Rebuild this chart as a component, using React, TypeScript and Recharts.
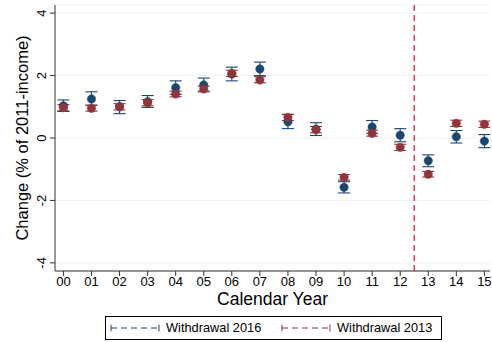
import React from 'react';
import { ComposedChart, Scatter, XAxis, YAxis, CartesianGrid, ErrorBar, ReferenceLine } from 'recharts';

const years = [0, 1, 2, 3, 4, 5, 6, 7, 8, 9, 10, 11, 12, 13, 14, 15];
const xTicks = years;
const yTicks = [-4, -2, 0, 2, 4];

// Withdrawal 2016 (blue)
const est2016 = [1.03, 1.25, 1.0, 1.16, 1.61, 1.7, 2.05, 2.21, 0.52, 0.28, -1.58, 0.35, 0.09, -0.73, 0.04, -0.1];
const lo2016 = [0.85, 1.05, 0.78, 0.98, 1.4, 1.5, 1.83, 2.0, 0.3, 0.08, -1.76, 0.15, -0.12, -0.92, -0.16, -0.31];
const hi2016 = [1.22, 1.48, 1.2, 1.36, 1.83, 1.92, 2.27, 2.43, 0.75, 0.49, -1.4, 0.56, 0.3, -0.54, 0.24, 0.11];

// Withdrawal 2013 (red)
const est2013 = [0.97, 0.95, 1.0, 1.13, 1.41, 1.57, 2.07, 1.86, 0.66, 0.27, -1.26, 0.15, -0.3, -1.16, 0.47, 0.44];
const lo2013 = [0.87, 0.86, 0.9, 1.03, 1.32, 1.48, 1.97, 1.77, 0.56, 0.17, -1.35, 0.06, -0.4, -1.25, 0.37, 0.34];
const hi2013 = [1.07, 1.05, 1.1, 1.23, 1.5, 1.66, 2.17, 1.96, 0.76, 0.37, -1.17, 0.25, -0.2, -1.07, 0.57, 0.54];

const BLUE = '#1a476f';
const RED = '#90353b';
const GRID = '#eaf2f3';
const FONT = '"Liberation Sans", Arial, sans-serif';

const build = (est: number[], lo: number[], hi: number[]) =>
  years.map((x, i) => ({ x, y: est[i], err: [est[i] - lo[i], hi[i] - est[i]] }));

const data2016 = build(est2016, lo2016, hi2016);
const data2013 = build(est2013, lo2013, hi2013);

const dot = (color: string) => (props: any) =>
  <circle cx={props.cx} cy={props.cy} r={4.2} fill={color} stroke={color} strokeOpacity={0.5} strokeWidth={1} />;

const YTick = (props: any) => {
  const { x, y, payload } = props;
  return (
    <text x={x - 2} y={y} transform={`rotate(-90 ${x - 2} ${y})`} textAnchor="middle" fontSize={13} fill="#000" fontFamily={FONT}>
      {payload.value}
    </text>
  );
};

const LegendIcon = ({ color }: { color: string }) => (
  <svg width={50} height={10} style={{ display: 'block' }}>
    <line x1={1} y1={5} x2={49} y2={5} stroke={color} strokeWidth={1} strokeDasharray="6 4" />
    <line x1={1} y1={1.5} x2={1} y2={8.5} stroke={color} strokeWidth={1} />
    <line x1={49} y1={1.5} x2={49} y2={8.5} stroke={color} strokeWidth={1} />
  </svg>
);

export default function App() {
  return (
    <div style={{ position: 'absolute', left: 0, top: 0, width: 492, height: 342, background: '#fff', fontFamily: FONT }}>
      <ComposedChart width={492} height={342} margin={{ top: 5, right: 2, left: 0, bottom: 37 }}>
        <CartesianGrid horizontal vertical={false} stroke={GRID} strokeWidth={1} />
        <XAxis
          type="number"
          dataKey="x"
          domain={[-0.3, 15.2]}
          ticks={xTicks}
          interval={0}
          allowDataOverflow
          tickFormatter={(v: number) => String(v).padStart(2, '0')}
          tick={{ fill: '#000', fontSize: 13, fontFamily: FONT }}
          tickSize={5}
          tickMargin={1}
          stroke="#333"
          height={34}
          label={{ value: 'Calendar Year', position: 'insideBottom', offset: 0, fill: '#000', fontSize: 17.5, fontFamily: FONT }}
        />
        <YAxis
          type="number"
          domain={[-4.26, 4.26]}
          ticks={yTicks}
          allowDataOverflow
          tick={<YTick />}
          tickSize={5}
          stroke="#333"
          width={55}
          label={{ value: 'Change (% of 2011-income)', angle: -90, position: 'insideLeft', offset: 22, fill: '#000', fontSize: 16.5, fontFamily: FONT, style: { textAnchor: 'middle' } }}
        />
        <ReferenceLine x={12.5} stroke="#d6102c" strokeWidth={1.2} strokeDasharray="6 4" />
        <Scatter name="Withdrawal 2016" data={data2016} dataKey="y" shape={dot(BLUE)} isAnimationActive={false}>
          <ErrorBar dataKey="err" direction="y" width={6} stroke={BLUE} strokeWidth={1.1} isAnimationActive={false} />
        </Scatter>
        <Scatter name="Withdrawal 2013" data={data2013} dataKey="y" shape={dot(RED)} isAnimationActive={false}>
          <ErrorBar dataKey="err" direction="y" width={6} stroke={RED} strokeWidth={1.1} isAnimationActive={false} />
        </Scatter>
      </ComposedChart>
      <div
        style={{
          position: 'absolute', left: 105, top: 316, width: 337, height: 24, boxSizing: 'border-box',
          border: '1px solid #000', fontSize: 12.8, color: '#000', whiteSpace: 'nowrap',
        }}
      >
        <div style={{ position: 'absolute', left: 4, top: 6 }}><LegendIcon color={BLUE} /></div>
        <span style={{ position: 'absolute', left: 60, top: 3 }}>Withdrawal 2016</span>
        <div style={{ position: 'absolute', left: 175, top: 6 }}><LegendIcon color={RED} /></div>
        <span style={{ position: 'absolute', left: 231, top: 3 }}>Withdrawal 2013</span>
      </div>
    </div>
  );
}
